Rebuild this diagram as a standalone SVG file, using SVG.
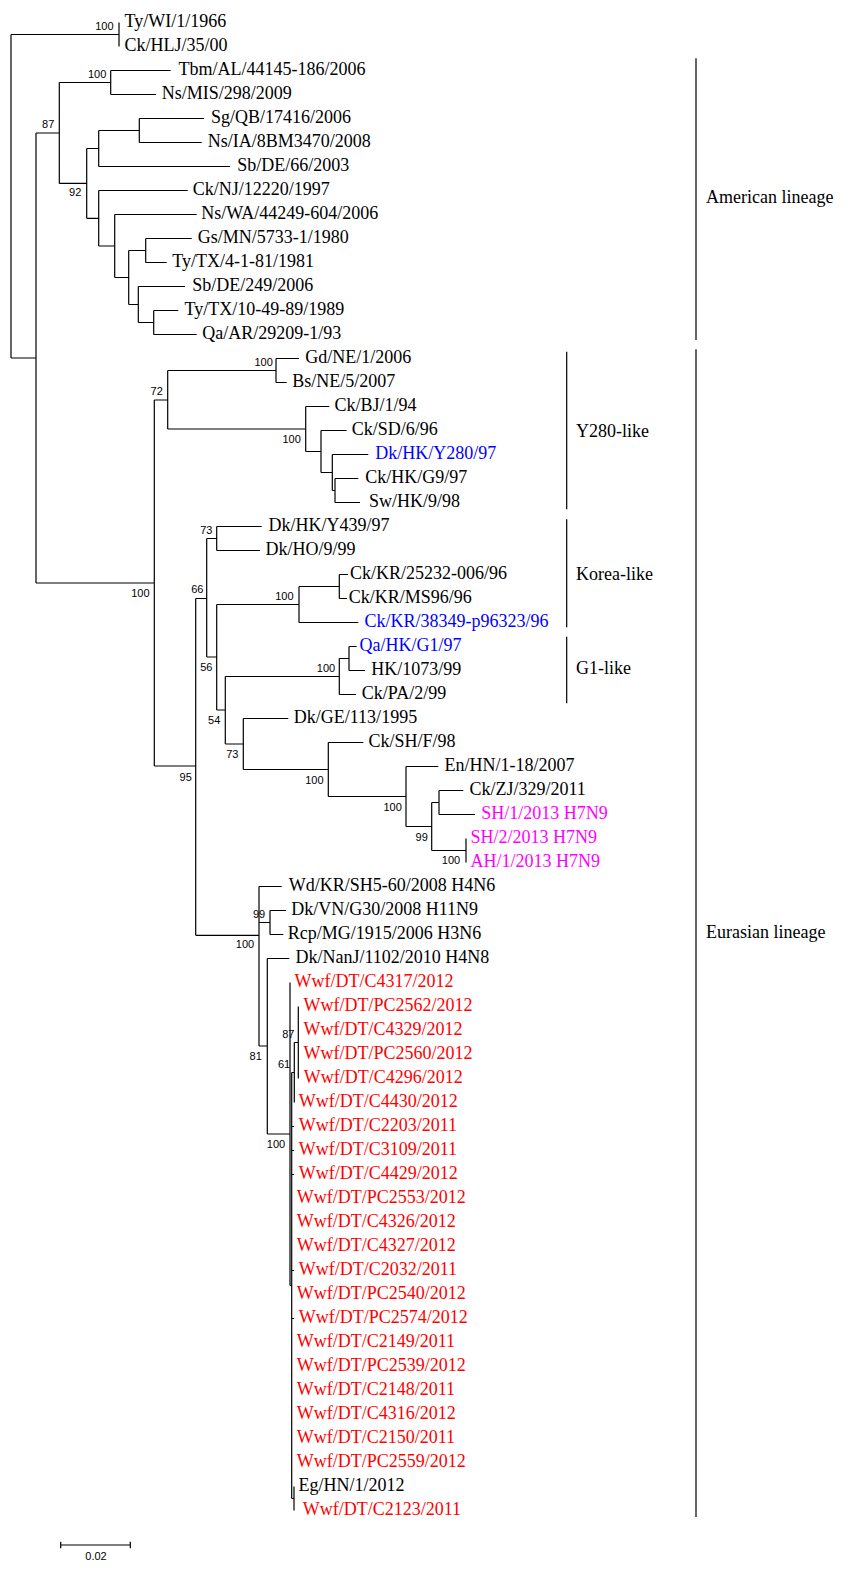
<svg xmlns="http://www.w3.org/2000/svg" width="854" height="1575" viewBox="0 0 854 1575">
<style>
.tr{fill:none;stroke:#000;stroke-width:1.2}
.lf{font-family:"Liberation Serif","Times New Roman",serif;font-size:18px;fill:#000}
.bl{fill:#0000ff}
.mg{fill:#ff00ff}
.rd{fill:#ff0000}
.bs{font-family:"Liberation Sans",Arial,sans-serif;font-size:11px;fill:#000;text-anchor:end}
.cl{font-family:"Liberation Serif","Times New Roman",serif;font-size:18px;fill:#000}
.sc{font-family:"Liberation Sans",Arial,sans-serif;font-size:11px;fill:#000;text-anchor:middle}
</style>
<rect width="854" height="1575" fill="#fff"/>
<g id="connectors" class="tr">
<path d="M11 34.5V358M11 34.5H119M119 22.5V46.5M11 358H36M36 133V583
M36 133H59.3M59.3 82.5V183.4M59.3 82.5H110.7M110.7 70.5V94.5M110.7 70.5H170.7M110.7 94.5H156
M59.3 183.4H86.7M86.7 148.5V218.3M86.7 148.5H98.7M98.7 130.5V166.5M98.7 130.5H139.3M139.3 118.5V142.5M139.3 118.5H204M139.3 142.5H201.7M98.7 166.5H230
M86.7 218.3H98.7M98.7 190.5V246M98.7 190.5H187.7M98.7 246H114.7M114.7 214.5V277.5M114.7 214.5H196.7M114.7 277.5H128.7M128.7 250.5V304.5M128.7 250.5H145.7M145.7 238.5V262.5M145.7 238.5H191.7M145.7 262.5H166.7M128.7 304.5H138.3M138.3 286.5V322.5M138.3 286.5H185M138.3 322.5H153.7M153.7 310.5V334.5M153.7 310.5H178.3M153.7 334.5H196.7"/>
<path d="M36 583H154.3M154.3 400V766M154.3 400H167.7M167.7 370.5V429M167.7 370.5H276M276 358.5V382.5M276 358.5H299M276 382.5H286.7
M167.7 429H305.7M305.7 406.5V451.5M305.7 406.5H329.3M305.7 451.5H321M321 430.5V472.5M321 430.5H346.7M321 472.5H332.3M332.3 454.5V490.5M332.3 454.5H368.3M332.3 490.5H335M335 478.5V502.5M335 478.5H358.3M335 502.5H360
M154.3 766H195.7M195.7 598.5V935.3M195.7 598.5H206.7M206.7 538.5V657M206.7 538.5H216.7M216.7 526.5V550.5M216.7 526.5H261.7M216.7 550.5H260
M206.7 657H216.7M216.7 604.5V710M216.7 604.5H299M299 586.5V622.5M299 586.5H339.3M339.3 574.5V598.5M339.3 574.5H348M339.3 598.5H347M299 622.5H358.3
M216.7 710H225.3M225.3 676.5V744M225.3 676.5H339.3M339.3 658.5V694.5M339.3 658.5H349M349 646.5V670.5M349 646.5H356.7M349 670.5H365M339.3 694.5H356
M225.3 744H243.3M243.3 718.5V769.5M243.3 718.5H288.3M243.3 769.5H328.3M328.3 742.5V796.5M328.3 742.5H363.3M328.3 796.5H406M406 766.5V826.5M406 766.5H438.3M406 826.5H431.7M431.7 802.5V850.5M431.7 802.5H439M439 790.5V814.5M439 790.5H463.3M439 814.5H475M431.7 850.5H466M466 838.5V862.5"/>
<path d="M195.7 935.3H259M259 886.5V1046M259 886.5H281.7M259 922.5H270M270 910.5V934.5M270 910.5H286M270 934.5H283.3
M259 1046H267.3M267.3 958.5V1134M267.3 958.5H289.3M267.3 1134H290M290 982.5V1285.5M290 1285.5H291.7M291.7 1072.5V1498.5M291.7 1072.5H294.3M294.3 1042.5V1102.5M294.3 1042.5H298.3M298.3 1006.5V1078.5
M291.7 1126.5H294M291.7 1150.5H294M291.7 1174.5H294M291.7 1270.5H294M291.7 1318.5H294M291.7 1498.5H294M294 1486.5V1510.5"/>
<path d="M696 58.3V340M696 349.3V1517M566.7 351.7V509.3M566.7 519.3V627.3M566.7 636.7V703.3"/>
<path d="M60.7 1545H130.3M60.7 1541.7V1548.3M130.3 1541.7V1548.3"/>
</g>
<g id="leaves" class="lf">
<g id="n1"><text x="124.5" y="26.8">Ty/WI/1/1966</text></g>
<g id="n2"><text x="124.5" y="50.8">Ck/HLJ/35/00</text></g>
<g id="n3"><text x="178.5" y="74.8">Tbm/AL/44145-186/2006</text></g>
<g id="n4"><text x="161.8" y="98.8">Ns/MIS/298/2009</text></g>
<g id="n5"><text x="211" y="122.8">Sg/QB/17416/2006</text></g>
<g id="n6"><text x="207.8" y="146.8">Ns/IA/8BM3470/2008</text></g>
<g id="n7"><text x="237.2" y="170.8">Sb/DE/66/2003</text></g>
<g id="n8"><text x="192.8" y="194.8">Ck/NJ/12220/1997</text></g>
<g id="n9"><text x="201.2" y="218.8">Ns/WA/44249-604/2006</text></g>
<g id="n10"><text x="197.8" y="242.8">Gs/MN/5733-1/1980</text></g>
<g id="n11"><text x="172.2" y="266.8">Ty/TX/4-1-81/1981</text></g>
<g id="n12"><text x="192.2" y="290.8">Sb/DE/249/2006</text></g>
<g id="n13"><text x="184.5" y="314.8">Ty/TX/10-49-89/1989</text></g>
<g id="n14"><text x="202.2" y="338.8">Qa/AR/29209-1/93</text></g>
<g id="n15"><text x="305.2" y="362.8">Gd/NE/1/2006</text></g>
<g id="n16"><text x="292.2" y="386.8">Bs/NE/5/2007</text></g>
<g id="n17"><text x="334.5" y="410.8">Ck/BJ/1/94</text></g>
<g id="n18"><text x="351.8" y="434.8">Ck/SD/6/96</text></g>
<g id="n19"><text class="bl" x="375.2" y="458.8">Dk/HK/Y280/97</text></g>
<g id="n20"><text x="365.2" y="482.8">Ck/HK/G9/97</text></g>
<g id="n21"><text x="369" y="506.8">Sw/HK/9/98</text></g>
<g id="n22"><text x="268.5" y="530.8">Dk/HK/Y439/97</text></g>
<g id="n23"><text x="265.5" y="554.8">Dk/HO/9/99</text></g>
<g id="n24"><text x="350" y="578.8">Ck/KR/25232-006/96</text></g>
<g id="n25"><text x="348.8" y="602.8">Ck/KR/MS96/96</text></g>
<g id="n26"><text class="bl" x="364.5" y="626.8">Ck/KR/38349-p96323/96</text></g>
<g id="n27"><text class="bl" x="359.5" y="650.8">Qa/HK/G1/97</text></g>
<g id="n28"><text x="371.2" y="674.8">HK/1073/99</text></g>
<g id="n29"><text x="361.8" y="698.8">Ck/PA/2/99</text></g>
<g id="n30"><text x="293.8" y="722.8">Dk/GE/113/1995</text></g>
<g id="n31"><text x="368.5" y="746.8">Ck/SH/F/98</text></g>
<g id="n32"><text x="444.5" y="770.8">En/HN/1-18/2007</text></g>
<g id="n33"><text x="469.5" y="794.8">Ck/ZJ/329/2011</text></g>
<g id="n34"><text class="mg" x="481.2" y="818.8">SH/1/2013 H7N9</text></g>
<g id="n35"><text class="mg" x="470.5" y="842.8">SH/2/2013 H7N9</text></g>
<g id="n36"><text class="mg" x="470.5" y="866.8">AH/1/2013 H7N9</text></g>
<g id="n37"><text x="288.8" y="890.8">Wd/KR/SH5-60/2008 H4N6</text></g>
<g id="n38"><text x="291.2" y="914.8">Dk/VN/G30/2008 H11N9</text></g>
<g id="n39"><text x="287.8" y="938.8">Rcp/MG/1915/2006 H3N6</text></g>
<g id="n40"><text x="295.5" y="962.8">Dk/NanJ/1102/2010 H4N8</text></g>
<g id="n41"><text class="rd" x="294.5" y="986.8">Wwf/DT/C4317/2012</text></g>
<g id="n42"><text class="rd" x="303.5" y="1010.8">Wwf/DT/PC2562/2012</text></g>
<g id="n43"><text class="rd" x="303.5" y="1034.8">Wwf/DT/C4329/2012</text></g>
<g id="n44"><text class="rd" x="303.5" y="1058.8">Wwf/DT/PC2560/2012</text></g>
<g id="n45"><text class="rd" x="303.8" y="1082.8">Wwf/DT/C4296/2012</text></g>
<g id="n46"><text class="rd" x="298.8" y="1106.8">Wwf/DT/C4430/2012</text></g>
<g id="n47"><text class="rd" x="298.8" y="1130.8">Wwf/DT/C2203/2011</text></g>
<g id="n48"><text class="rd" x="298.8" y="1154.8">Wwf/DT/C3109/2011</text></g>
<g id="n49"><text class="rd" x="298.8" y="1178.8">Wwf/DT/C4429/2012</text></g>
<g id="n50"><text class="rd" x="296.8" y="1202.8">Wwf/DT/PC2553/2012</text></g>
<g id="n51"><text class="rd" x="296.8" y="1226.8">Wwf/DT/C4326/2012</text></g>
<g id="n52"><text class="rd" x="296.8" y="1250.8">Wwf/DT/C4327/2012</text></g>
<g id="n53"><text class="rd" x="298.8" y="1274.8">Wwf/DT/C2032/2011</text></g>
<g id="n54"><text class="rd" x="296.8" y="1298.8">Wwf/DT/PC2540/2012</text></g>
<g id="n55"><text class="rd" x="298.8" y="1322.8">Wwf/DT/PC2574/2012</text></g>
<g id="n56"><text class="rd" x="296.8" y="1346.8">Wwf/DT/C2149/2011</text></g>
<g id="n57"><text class="rd" x="296.8" y="1370.8">Wwf/DT/PC2539/2012</text></g>
<g id="n58"><text class="rd" x="296.8" y="1394.8">Wwf/DT/C2148/2011</text></g>
<g id="n59"><text class="rd" x="296.8" y="1418.8">Wwf/DT/C4316/2012</text></g>
<g id="n60"><text class="rd" x="296.8" y="1442.8">Wwf/DT/C2150/2011</text></g>
<g id="n61"><text class="rd" x="296.8" y="1466.8">Wwf/DT/PC2559/2012</text></g>
<g id="n62"><text x="298.5" y="1490.8">Eg/HN/1/2012</text></g>
<g id="n63"><text class="rd" x="302.8" y="1514.8">Wwf/DT/C2123/2011</text></g>
</g>
<g id="bootstrap" class="bs">
<g id="b1"><text x="113.5" y="30">100</text></g>
<g id="b2"><text x="106.3" y="77.7">100</text></g>
<g id="b3"><text x="54.3" y="128.3">87</text></g>
<g id="b4"><text x="81.3" y="196">92</text></g>
<g id="b5"><text x="272.8" y="366.3">100</text></g>
<g id="b6"><text x="162.8" y="395">72</text></g>
<g id="b7"><text x="300.8" y="442.7">100</text></g>
<g id="b8"><text x="212.5" y="534">73</text></g>
<g id="b9"><text x="203.5" y="593">66</text></g>
<g id="b10"><text x="293.5" y="600">100</text></g>
<g id="b11"><text x="149.5" y="596.7">100</text></g>
<g id="b12"><text x="212.5" y="670.5">56</text></g>
<g id="b13"><text x="335.2" y="671.5">100</text></g>
<g id="b14"><text x="220.3" y="724">54</text></g>
<g id="b15"><text x="238.5" y="757.5">73</text></g>
<g id="b16"><text x="191.8" y="781">95</text></g>
<g id="b17"><text x="323.5" y="784.3">100</text></g>
<g id="b18"><text x="401.8" y="811">100</text></g>
<g id="b19"><text x="427.8" y="840.7">99</text></g>
<g id="b20"><text x="460.2" y="864.3">100</text></g>
<g id="b21"><text x="265.2" y="917.7">99</text></g>
<g id="b22"><text x="254.2" y="948.3">100</text></g>
<g id="b23"><text x="261.8" y="1060">81</text></g>
<g id="b24"><text x="294.5" y="1037.7">87</text></g>
<g id="b25"><text x="290.2" y="1068.3">61</text></g>
<g id="b26"><text x="285.2" y="1148.3">100</text></g>
</g>
<g id="clades" class="cl">
<g id="american"><text x="706" y="203.3">American lineage</text></g>
<g id="eurasian"><text x="706" y="938.3">Eurasian lineage</text></g>
<g id="y280"><text x="576" y="436.7">Y280-like</text></g>
<g id="korea"><text x="576" y="580">Korea-like</text></g>
<g id="g1"><text x="576" y="674.3">G1-like</text></g>
</g>
<g id="scale"><text class="sc" x="96" y="1560">0.02</text></g>
</svg>
